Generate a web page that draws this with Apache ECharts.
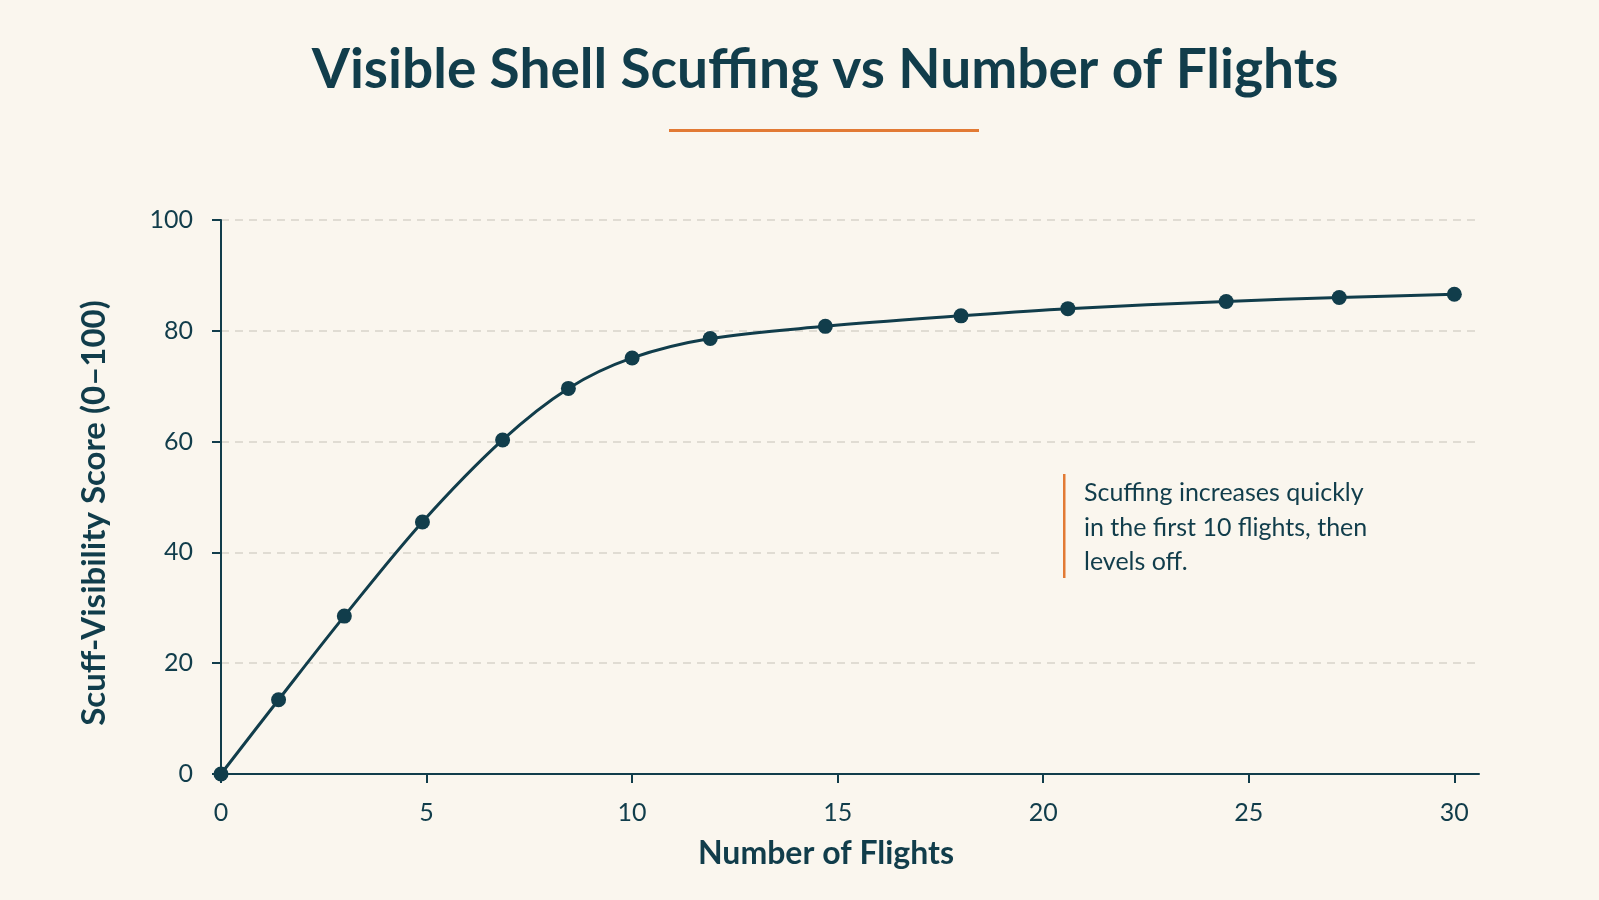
<!DOCTYPE html>
<html>
<head>
<meta charset="utf-8">
<title>Visible Shell Scuffing vs Number of Flights</title>
<script src="https://cdn.jsdelivr.net/npm/echarts@6/dist/echarts.min.js"></script>
<style>
	html, body { margin: 0; padding: 0; background: #faf6ee; }
	#chart { width: 1599px; height: 900px; }
</style>
</head>
<body>
<div id="chart"></div>
<script>
// 数据
var flights = [0, 1.4, 3, 4.9, 6.85, 8.45, 10, 11.9, 14.7, 18, 20.6, 24.45, 27.2, 30];
var scores = [0, 13.4, 28.5, 45.5, 60.3, 69.6, 75.1, 78.6, 80.8, 82.7, 84.0, 85.3, 86.0, 86.6];
var xTicks = [0, 5, 10, 15, 20, 25, 30];
var noteLines = ['Scuffing increases quickly', 'in the first 10 flights, then', 'levels off.'];

var ink = '#113d4b';
var accent = '#e27a34';

var myChart = echarts.init(document.getElementById('chart'));
var option = {
	backgroundColor: '#faf6ee',
	textStyle: { fontFamily: 'Lato' },
	title: {
		text: 'Visible Shell Scuffing vs Number of Flights',
		left: 820,
		textAlign: 'center',
		top: 38,
		textStyle: { fontFamily: 'Lato', fontSize: 55, fontWeight: 'bold', color: ink }
	},
	grid: { left: 221, right: 120, top: 220, bottom: 126 },
	xAxis: {
		type: 'value',
		min: 0,
		max: 30.6,
		name: 'Number of Flights',
		nameLocation: 'middle',
		nameGap: 64,
		nameTextStyle: { fontSize: 32, fontWeight: 'bold', color: ink, padding: [0, 48, 0, 0] },
		axisLine: { lineStyle: { color: ink, width: 2 } },
		axisTick: { show: true, length: 9, customValues: xTicks, lineStyle: { color: ink, width: 2 } },
		axisLabel: { customValues: xTicks, margin: 26, fontSize: 25, color: ink },
		splitLine: { show: false }
	},
	yAxis: {
		type: 'value',
		min: 0,
		max: 100,
		interval: 20,
		name: 'Scuff-Visibility Score (0\u2013100)',
		nameLocation: 'middle',
		nameGap: 110,
		nameTextStyle: { fontSize: 33, fontWeight: 'bold', color: ink, padding: [0, 32, 0, 0] },
		axisLine: { show: true, lineStyle: { color: ink, width: 2 } },
		axisTick: { show: true, length: 9, lineStyle: { color: ink, width: 2 } },
		axisLabel: { margin: 28, fontSize: 25, color: ink },
		splitLine: { lineStyle: { color: '#d8d4ca', type: [8, 6], width: 1.5 } }
	},
	graphic: [
		{ type: 'rect', left: 669, top: 129, shape: { width: 310, height: 3 }, style: { fill: accent } },
		{ type: 'rect', left: 999, top: 458, shape: { width: 480, height: 130 }, style: { fill: '#faf6ee' }, z: 5 },
		{ type: 'rect', left: 1063, top: 474, shape: { width: 2.5, height: 104 }, style: { fill: accent }, z: 6 },
		{
			type: 'text', left: 1084, top: 476, z: 6,
			style: { text: noteLines.join('\n'), font: '25px Lato', lineHeight: 34.5, fill: ink }
		}
	],
	series: [{
		type: 'line',
		data: flights.map(function(x, i) { return [x, scores[i]]; }),
		smooth: 0.35,
		symbol: 'circle',
		symbolSize: 15,
		lineStyle: { color: ink, width: 3 },
		itemStyle: { color: ink },
		z: 10
	}]
};
myChart.setOption(option);
</script>
</body>
</html>
